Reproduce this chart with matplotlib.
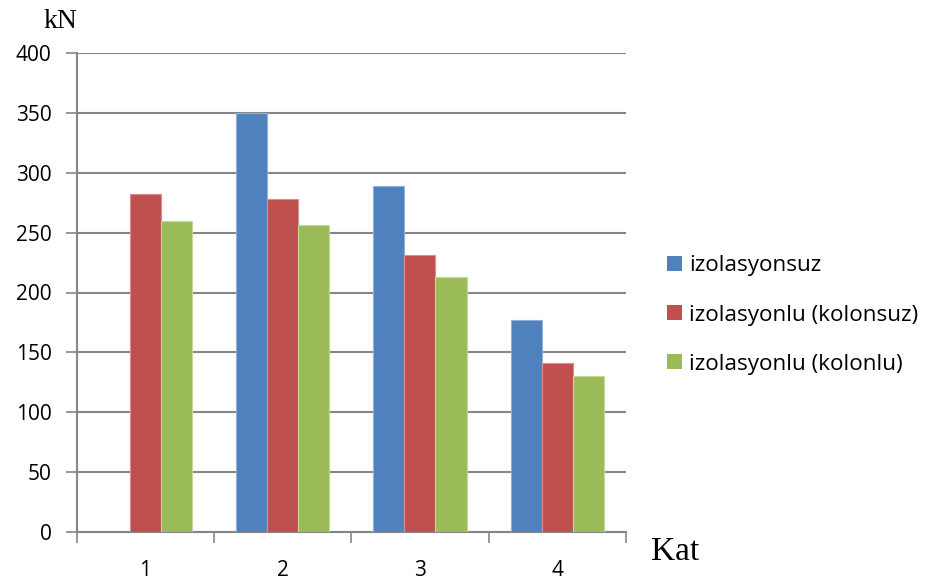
import numpy as np
import matplotlib
matplotlib.use("Agg")
import matplotlib.pyplot as plt
from matplotlib.patches import Patch

# Data: floor-level forces (kN)
categories = ["1", "2", "3", "4"]
series_names = ["izolasyonsuz", "izolasyonlu (kolonsuz)", "izolasyonlu (kolonlu)"]
izolasyonsuz = [np.nan, 350, 289, 177]
kolonsuz = [282, 278, 231, 141]
kolonlu = [260, 256, 213, 130]
y_ticks = [0, 50, 100, 150, 200, 250, 300, 350, 400]

colors = ["#4F81BD", "#C0504D", "#9BBB59"]
edges = ["#8FB0D8", "#DA8E8C", "#C3D89A"]

W, H = 934, 586
fig = plt.figure(figsize=(W / 100, H / 100), dpi=100)
ax = fig.add_axes([76.5 / W, 1 - 532 / H, 549.5 / W, 479 / H])

label_font = ["Open Sans", "DejaVu Sans"]
serif_font = ["Liberation Serif", "DejaVu Serif"]

x = np.arange(len(categories))
bw = 0.226
for i, (vals, c, e) in enumerate(zip([izolasyonsuz, kolonsuz, kolonlu], colors, edges)):
    ax.bar(x + (i - 1) * bw, vals, width=bw, color=c, edgecolor=e, linewidth=0.8, zorder=3)

ax.set_xlim(-0.5, len(categories) - 0.5)
ax.set_ylim(0, 400)
ax.set_yticks(y_ticks)
ax.set_yticklabels([str(t) for t in y_ticks], fontfamily=label_font, fontsize=15)
ax.yaxis.grid(True, color="#868686", linewidth=1.5, zorder=0)

# Category boundaries as major ticks, labels centred between them
ax.set_xticks(np.arange(-0.5, len(categories), 1.0))
ax.set_xticklabels([])
ax.set_xticks(x, minor=True)
ax.set_xticklabels(categories, minor=True, fontfamily=label_font, fontsize=15)
ax.tick_params(axis="x", which="major", length=8, width=1.2, color="#868686", direction="out")
ax.tick_params(axis="x", which="minor", length=0, pad=20)
ax.tick_params(axis="y", length=8, width=1.2, color="#868686", direction="out", pad=10)

for s in ["top", "right"]:
    ax.spines[s].set_visible(False)
for s in ["left", "bottom"]:
    ax.spines[s].set_color("#868686")
    ax.spines[s].set_linewidth(1.5)

fig.text(43 / W, 1 - 28 / H, "kN", fontfamily=serif_font, fontsize=20, va="baseline", ha="left")
fig.text(651 / W, 1 - 560 / H, "Kat", fontfamily=serif_font, fontsize=24, va="baseline", ha="left")

handles = [Patch(facecolor=c, edgecolor="none") for c in colors]
fig.legend(handles, series_names, loc="center left", bbox_to_anchor=(667 / W, 1 - 315 / H),
           frameon=False, prop={"family": label_font, "size": 16.2}, borderpad=0, borderaxespad=0,
           handlelength=0.65, handleheight=0.65, handletextpad=0.33, labelspacing=1.25)

fig.savefig("out.png", dpi=100)
